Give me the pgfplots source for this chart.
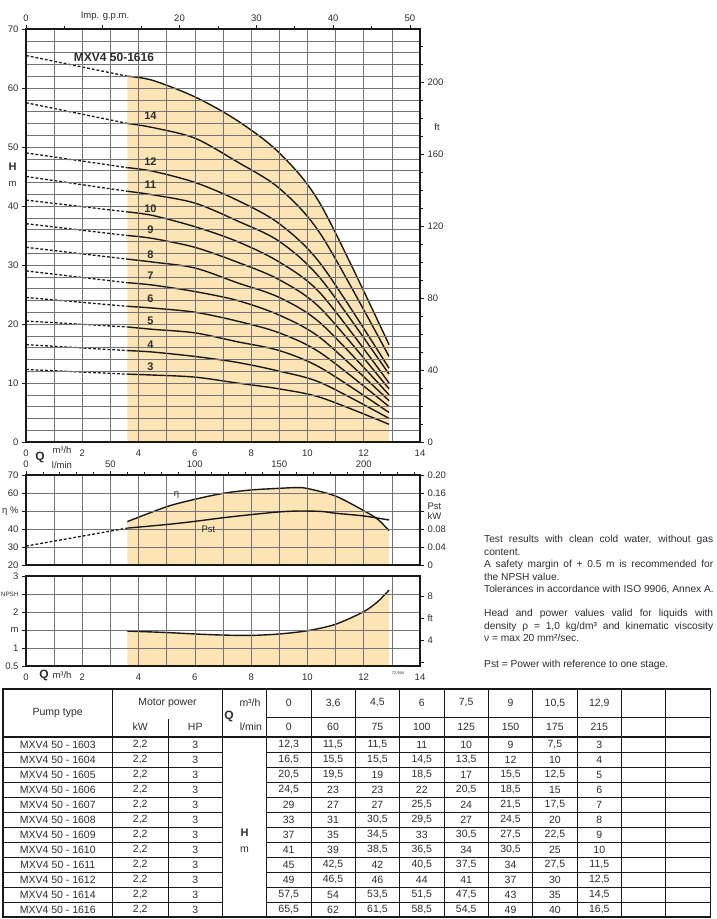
\documentclass[border=0pt]{standalone}
\usepackage{fontspec}
\setmainfont{Liberation Sans}
\usepackage{pgfplots}
\pgfplotsset{compat=1.18}

\definecolor{fillc}{RGB}{252,228,180}
\definecolor{txt}{RGB}{45,45,45}
\definecolor{gridc}{RGB}{115,115,115}
\definecolor{crv}{RGB}{25,25,25}

\pgfplotsset{
  base/.style={
    scale only axis, width=394pt,
    xmin=0, xmax=14,
    axis line style={line width=1.5pt, crv},
    grid style={gridc, line width=0.5pt},
    tick style={crv, line width=0.6pt},
    tick align=outside,
    major tick length=4pt, minor tick length=0pt,
    ticklabel style={font=\fontsize{9.5}{10}\selectfont, text=txt},
    axis on top,
    /pgf/number format/assume math mode=true,
  },
  over/.style={
    scale only axis, width=394pt,
    axis line style={draw=none},
    tick style={crv, line width=0.6pt},
    tick align=outside, major tick length=4pt, minor tick length=3pt,
    ticklabel style={font=\fontsize{9.5}{10}\selectfont, text=txt},
    /pgf/number format/assume math mode=true,
  },
  dsh/.style={crv, line width=1.3pt, dash pattern=on 2.8pt off 2pt},
  sol/.style={crv, line width=1.4pt, smooth, tension=0.5},
}

\newcount\rowi
\newcommand\trow[9]{%
  \global\advance\rowi by 1
  \pgfmathsetmacro\yy{737+15*\the\rowi-7.5}%
  \node[tt] at (57.75,\yy) {MXV4 50 - #1};
  \node[tt] at (140.25,\yy) {2,2};
  \node[tt] at (195.25,\yy) {3};
  \node[tt] at (288.7,\yy) {#2};
  \node[tt] at (333.0,\yy) {#3};
  \node[tt] at (377.4,\yy) {#4};
  \node[tt] at (421.8,\yy) {#5};
  \node[tt] at (466.2,\yy) {#6};
  \node[tt] at (510.5,\yy) {#7};
  \node[tt] at (554.9,\yy) {#8};
  \node[tt] at (599.3,\yy) {#9};
}

\begin{document}
\begin{tikzpicture}
\useasboundingbox (0pt,0pt) rectangle (717pt,-919pt);

% ---------- head curves ----------
\begin{axis}[base, at={(26pt,-442pt)}, anchor=south west, height=413pt,
  ymin=0, ymax=70,
  xtick={0,2,...,14}, minor xtick={1,3,...,13},
  ytick={0,10,...,70}, minor y tick num=4,
  grid=both, xtick pos=left, ytick pos=left, xtick style={draw=none}]
\addplot[fill=fillc, draw=none, smooth, tension=0.5] coordinates {(3.6,62) (4.5,61.3) (6,58.5) (7.5,54.5) (9,49) (10.5,40) (12.9,16.5)} \closedcycle;
% 1603
\addplot[dsh] coordinates {(0,12.3) (3.6,11.5)};
\addplot[sol] coordinates {(3.6,11.5) (4.5,11.35) (6,11) (7.5,10) (9,9) (10.5,7.5) (12.9,3)};
% 1604
\addplot[dsh] coordinates {(0,16.5) (3.6,15.5)};
\addplot[sol] coordinates {(3.6,15.5) (4.5,15.25) (6,14.5) (7.5,13.5) (9,12) (10.5,10) (12.9,4)};
% 1605
\addplot[dsh] coordinates {(0,20.5) (3.6,19.5)};
\addplot[sol] coordinates {(3.6,19.5) (4.5,19.1) (6,18.5) (7.5,17) (9,15.5) (10.5,12.5) (12.9,5)};
% 1606
\addplot[dsh] coordinates {(0,24.5) (3.6,23)};
\addplot[sol] coordinates {(3.6,23) (4.5,22.7) (6,22) (7.5,20.5) (9,18.5) (10.5,15) (12.9,6)};
% 1607
\addplot[dsh] coordinates {(0,29) (3.6,27)};
\addplot[sol] coordinates {(3.6,27) (4.5,26.6) (6,25.5) (7.5,24) (9,21.5) (10.5,17.5) (12.9,7)};
% 1608
\addplot[dsh] coordinates {(0,33) (3.6,31)};
\addplot[sol] coordinates {(3.6,31) (4.5,30.5) (6,29.5) (7.5,27) (9,24.5) (10.5,20) (12.9,8)};
% 1609
\addplot[dsh] coordinates {(0,37) (3.6,35)};
\addplot[sol] coordinates {(3.6,35) (4.5,34.5) (6,33) (7.5,30.5) (9,27.5) (10.5,22.5) (12.9,9)};
% 1610
\addplot[dsh] coordinates {(0,41) (3.6,39)};
\addplot[sol] coordinates {(3.6,39) (4.5,38.4) (6,36.5) (7.5,34) (9,30.5) (10.5,25) (12.9,10)};
% 1611
\addplot[dsh] coordinates {(0,45) (3.6,42.5)};
\addplot[sol] coordinates {(3.6,42.5) (4.5,41.9) (6,40.5) (7.5,37.5) (9,34) (10.5,27.5) (12.9,11.5)};
% 1612
\addplot[dsh] coordinates {(0,49) (3.6,46.5)};
\addplot[sol] coordinates {(3.6,46.5) (4.5,45.9) (6,44) (7.5,41) (9,37) (10.5,30) (12.9,12.5)};
% 1614
\addplot[dsh] coordinates {(0,57.5) (3.6,54)};
\addplot[sol] coordinates {(3.6,54) (4.5,53.3) (6,51.5) (7.5,47.5) (9,43) (10.5,35) (12.9,14.5)};
% 1616
\addplot[dsh] coordinates {(0,65.5) (3.6,62)};
\addplot[sol] coordinates {(3.6,62) (4.5,61.3) (6,58.5) (7.5,54.5) (9,49) (10.5,40) (12.9,16.5)};
\end{axis}
% gpm / ft scales
\begin{axis}[over, at={(26pt,-442pt)}, anchor=south west, height=413pt,
  xmin=0, xmax=51.325, ymin=0, ymax=229.66,
  xtick={0,10,...,50}, xticklabels={0,,20,30,40,50}, minor xtick={5,15,...,45},
  xtick pos=right, xticklabel pos=right,
  ytick={0,40,...,200}, minor ytick={10,20,...,220},
  ytick pos=right, yticklabel pos=right]
\end{axis}

% ---------- efficiency / power ----------
\begin{axis}[base, at={(26pt,-565pt)}, anchor=south west, height=90pt,
  ymin=20, ymax=70,
  xtick={0,1,...,14}, xticklabels={},
  ytick={20,30,...,70}, yticklabels={20,30,40,{η \%},60,70},
  grid=major, xtick pos=left, ytick pos=left, xtick style={draw=none}]
\addplot[fill=fillc, draw=none, smooth, tension=0.5] coordinates {(3.6,44.1) (5,52.4) (6,56.5) (7,59.8) (8,61.7) (9,62.6) (9.6,63) (10,62.5) (11,58.3) (12,50.2) (12.5,45.4) (12.9,39.1)} \closedcycle;
\addplot[sol] coordinates {(3.6,44.1) (5,52.4) (6,56.5) (7,59.8) (8,61.7) (9,62.6) (9.6,63) (10,62.5) (11,58.3) (12,50.2) (12.5,45.4) (12.9,39.1)};
\end{axis}
\begin{axis}[over, at={(26pt,-565pt)}, anchor=south west, height=90pt,
  xmin=0, xmax=14, ymin=0, ymax=0.2, xtick=\empty,
  ytick={0,0.04,0.08,0.12,0.16,0.2}, yticklabels={0,0.04,0.08,{Pst\\kW},0.16,0.20},
  yticklabel style={align=center}, ytick pos=right, yticklabel pos=right]
\addplot[dsh] coordinates {(0,0.042) (3.6,0.082)};
\addplot[sol] coordinates {(3.6,0.082) (5,0.090) (6,0.097) (7,0.105) (8,0.112) (9,0.118) (9.7,0.120) (10.5,0.119) (11,0.115) (12,0.109) (12.9,0.100)};
\end{axis}
\begin{axis}[over, at={(26pt,-565pt)}, anchor=south west, height=90pt,
  xmin=0, xmax=233.333, ymin=0, ymax=1, ytick=\empty,
  xtick={0,50,...,200}, minor xtick={10,20,...,230},
  xtick pos=right, xticklabel pos=right]
\end{axis}

% ---------- NPSH ----------
\begin{axis}[base, at={(26pt,-666pt)}, anchor=south west, height=90pt,
  ymin=0.5, ymax=3,
  xtick={0,2,...,14}, minor xtick={1,3,...,13},
  ytick={0.5,1,1.5,2,2.5,3}, yticklabels={0.5,1,m,2,{\fontsize{6.3}{7}\selectfont NPSH},3},
  grid=both, xtick pos=left, ytick pos=left, xtick style={draw=none}]
\addplot[fill=fillc, draw=none, smooth, tension=0.5] coordinates {(3.6,1.47) (5,1.43) (6,1.39) (7,1.36) (8,1.35) (9,1.39) (10,1.48) (11,1.66) (12,2.01) (12.5,2.29) (12.9,2.61)} \closedcycle;
\addplot[sol] coordinates {(3.6,1.47) (5,1.43) (6,1.39) (7,1.36) (8,1.35) (9,1.39) (10,1.48) (11,1.66) (12,2.01) (12.5,2.29) (12.9,2.61)};
\end{axis}
\begin{axis}[over, at={(26pt,-666pt)}, anchor=south west, height=90pt,
  xmin=0, xmax=14, ymin=1.6404, ymax=9.8425, xtick=\empty,
  ytick={2,4,6,8}, yticklabels={,4,ft,8},
  ytick pos=right, yticklabel pos=right]
\end{axis}

% ---------- labels, notes and table ----------
\begin{scope}[x=1pt,y=-1pt,
  lb/.style={font=\fontsize{9.5}{10}\selectfont, text=txt, inner sep=0},
  bl/.style={font=\fontsize{11}{12}\bfseries, text=txt, inner sep=0},
  tt/.style={font=\fontsize{10.5}{12}\selectfont, text=txt, inner sep=0},
  nt/.style={font=\fontsize{10.2}{12}\selectfont, text=txt, inner sep=0, anchor=base west}]
\node[lb] at (105,16) {Imp. g.p.m.};
\node[lb] at (437,127) {ft};
\node[bl] at (12.5,167) {H};
\node[lb] at (12.5,184) {m};
\node[font=\fontsize{12}{13}\bfseries, text=txt, inner sep=0] at (114,57) {MXV4 50-1616};
\foreach \t/\yy in {14/116,12/162,11/185,10/208.5,9/230,8/255,7/276,6/299,5/321,4/344.5,3/367}
  \node[bl] at (150.5,\yy) {\t};
\node[font=\fontsize{12}{13}\bfseries, text=txt, inner sep=0] at (40,457) {Q};
\node[lb] at (62,450) {m³/h};
\node[lb] at (62,465) {l/min};
\node[lb] at (176.5,495) {η};
\node[lb] at (208.5,529) {Pst};
\node[font=\fontsize{12}{13}\bfseries, text=txt, inner sep=0] at (44,675) {Q};
\node[lb] at (62,675) {m³/h};
\node[font=\fontsize{4}{5}\selectfont, text=txt, inner sep=0] at (398,673) {72.994};

\node[nt] at (484,542.5) {\makebox[229pt][s]{Test results with clean cold water, without gas}};
\node[nt] at (484,555) {content.};
\node[nt] at (484,567.5) {\makebox[229pt][s]{A safety margin of + 0.5 m is recommended for}};
\node[nt] at (484,580) {the NPSH value.};
\node[nt] at (484,592.5) {Tolerances in accordance with ISO 9906, Annex A.};
\node[nt] at (484,616.5) {\makebox[229pt][s]{Head and power values valid for liquids with}};
\node[nt] at (484,629) {\makebox[229pt][s]{density ρ = 1,0 kg/dm³ and kinematic viscosity}};
\node[nt] at (484,641.5) {ν = max 20 mm²/sec.};
\node[nt] at (484,667.5) {Pst = Power with reference to one stage.};

% table grid
\draw[line width=1.2pt, crv] (3,689) rectangle (710.2,917);
\draw[line width=1.2pt, crv] (3,737) -- (710.2,737);
\foreach \xx in {112.5,222.5,266.5} \draw[line width=1.1pt, crv] (\xx,689) -- (\xx,917);
\foreach \k in {1,...,9} \draw[line width=0.7pt, crv] ({266.5+44.37*\k},689) -- ({266.5+44.37*\k},917);
\draw[line width=0.7pt, crv] (168,719) -- (168,917);
\draw[line width=0.7pt, crv] (266.5,717) -- (710.2,717);
\foreach \k in {1,...,11} {
  \draw[line width=0.7pt, crv] (3,{737+15*\k}) -- (222.5,{737+15*\k});
  \draw[line width=0.7pt, crv] (266.5,{737+15*\k}) -- (710.2,{737+15*\k});
}
% table header
\node[tt] at (57.75,713) {Pump type};
\node[tt] at (167.5,703) {Motor power};
\node[tt] at (140.25,727) {kW};
\node[tt] at (195.25,727) {HP};
\node[font=\fontsize{12}{13}\bfseries, text=txt, inner sep=0] at (229,716) {Q};
\node[tt] at (250,703) {m³/h};
\node[tt] at (251,727) {l/min};
\foreach \v [count=\j] in {0,{3,6},{4,5},6,{7,5},9,{10,5},{12,9}}
  \node[tt] at ({266.5+44.37*(\j-0.5)},703) {\v};
\foreach \v [count=\j] in {0,60,75,100,125,150,175,215}
  \node[tt] at ({266.5+44.37*(\j-0.5)},727) {\v};
\node[font=\fontsize{11}{12}\bfseries, text=txt, inner sep=0] at (244.5,833) {H};
\node[tt] at (244.5,850) {m};
% table rows
\trow{1603}{12,3}{11,5}{11,5}{11}{10}{9}{7,5}{3}
\trow{1604}{16,5}{15,5}{15,5}{14,5}{13,5}{12}{10}{4}
\trow{1605}{20,5}{19,5}{19}{18,5}{17}{15,5}{12,5}{5}
\trow{1606}{24,5}{23}{23}{22}{20,5}{18,5}{15}{6}
\trow{1607}{29}{27}{27}{25,5}{24}{21,5}{17,5}{7}
\trow{1608}{33}{31}{30,5}{29,5}{27}{24,5}{20}{8}
\trow{1609}{37}{35}{34,5}{33}{30,5}{27,5}{22,5}{9}
\trow{1610}{41}{39}{38,5}{36,5}{34}{30,5}{25}{10}
\trow{1611}{45}{42,5}{42}{40,5}{37,5}{34}{27,5}{11,5}
\trow{1612}{49}{46,5}{46}{44}{41}{37}{30}{12,5}
\trow{1614}{57,5}{54}{53,5}{51,5}{47,5}{43}{35}{14,5}
\trow{1616}{65,5}{62}{61,5}{58,5}{54,5}{49}{40}{16,5}
\end{scope}
\end{tikzpicture}
\end{document}
